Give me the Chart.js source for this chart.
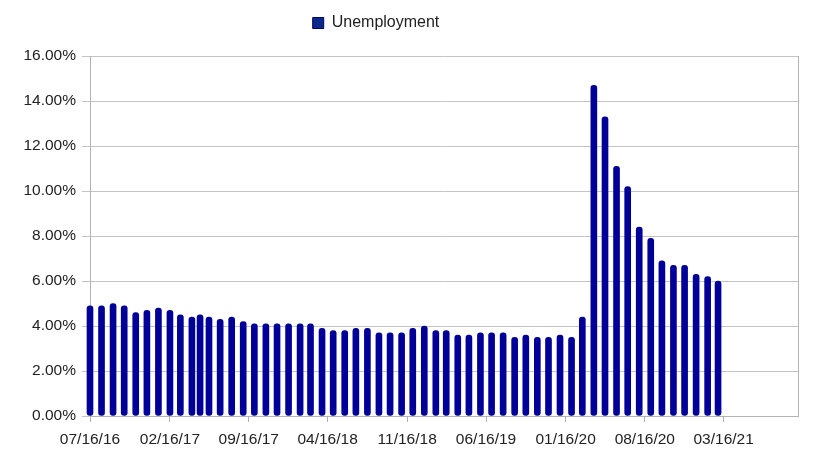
<!DOCTYPE html>
<html><head><meta charset="utf-8">
<script src="https://cdn.jsdelivr.net/npm/chart.js@4.4.1/dist/chart.umd.min.js"></script>
<style>html,body{margin:0;padding:0;background:#fff;} #wrap{width:833px;height:464px;}</style>
</head><body><div id="wrap"><canvas id="c" width="833" height="464"></canvas></div>
<script>
const dates = [
 '07/16/16','08/16/16','09/16/16','10/16/16','11/16/16','12/16/16',
 '01/16/17','02/16/17','03/16/17','04/16/17','05/08/17','06/01/17','07/01/17','08/01/17','09/01/17','10/01/17','11/01/17','12/01/17',
 '01/01/18','02/01/18','03/01/18','04/01/18','05/01/18','06/01/18','07/01/18','08/01/18','09/01/18','10/01/18','11/01/18','12/01/18',
 '01/01/19','02/01/19','03/01/19','04/01/19','05/01/19','06/01/19','07/01/19','08/01/19','09/01/19','10/01/19','11/01/19','12/01/19',
 '01/01/20','02/01/20','03/01/20','04/01/20','05/01/20','06/01/20','07/01/20','08/01/20','09/01/20','10/01/20','11/01/20','12/01/20',
 '01/01/21','02/01/21','03/01/21'
];
const unemployment = [
 4.9,4.9,5.0,4.9,4.6,4.7,
 4.8,4.7,4.5,4.4,4.5,4.4,4.3,4.4,4.2,4.1,4.1,4.1,
 4.1,4.1,4.1,3.9,3.8,3.8,3.9,3.9,3.7,3.7,3.7,3.9,
 4.0,3.8,3.8,3.6,3.6,3.7,3.7,3.7,3.5,3.6,3.5,3.5,
 3.6,3.5,4.4,14.7,13.3,11.1,10.2,8.4,7.9,6.9,6.7,6.7,
 6.3,6.2,6.0
];
const tickLabels = ['07/16/16','02/16/17','09/16/17','04/16/18','11/16/18','06/16/19','01/16/20','08/16/20','03/16/21'];
const axisStart = '07/16/16';
const axisEnd = '10/02/21';
const seriesName = 'Unemployment';

function toDay(s){
  const [m,d,y] = s.split('/').map(Number);
  const [m0,d0,y0] = axisStart.split('/').map(Number);
  return (Date.UTC(2000+y, m-1, d) - Date.UTC(2000+y0, m0-1, d0)) / 86400000;
}

const FONT = "'Liberation Sans', Arial, sans-serif";
Chart.defaults.font.family = FONT;

const legendShift = { id:'legendShift', afterLayout(chart){ const l = chart.legend; if(!l) return; const dx = -23, dy = -15; l.left += dx; l.right += dx; l.top += dy; l.bottom += dy; } };
const frame = { id:'frame', beforeDatasetsDraw(chart){ const {ctx, chartArea:a} = chart; ctx.save(); ctx.strokeStyle='#b3b3b3'; ctx.lineWidth=1; ctx.beginPath(); ctx.moveTo(Math.round(a.right)+0.5, a.top); ctx.lineTo(Math.round(a.right)+0.5, a.bottom); ctx.stroke(); ctx.restore(); } };

new Chart(document.getElementById('c'), {
  type: 'bar',
  data: {
    datasets: [{
      label: seriesName,
      data: dates.map((d,i) => ({x: toDay(d), y: unemployment[i]})),
      backgroundColor: '#000099',
      borderWidth: 0,
      barThickness: 6,
      borderRadius: 3,
      borderSkipped: false,
      clip: false
    }]
  },
  options: {
    responsive: false,
    animation: false,
    layout: { padding: { left: 0, right: 35, top: 20, bottom: 0 } },
    plugins: {
      tooltip: { enabled: false },
      legend: {
        display: true,
        position: 'top',
        labels: {
          boxWidth: 11, boxHeight: 11, padding: 10,
          color: '#222',
          font: { size: 16, family: FONT },
          generateLabels(chart){
            const items = Chart.defaults.plugins.legend.labels.generateLabels(chart);
            items.forEach(it => { it.lineWidth = 1; it.strokeStyle = '#000066'; it.fillStyle = '#0a2a8a'; });
            return items;
          }
        }
      }
    },
    scales: {
      x: {
        type: 'linear',
        min: 0,
        max: toDay(axisEnd),
        offset: false,
        afterFit(s){ s.height = 48; },
        afterBuildTicks(s){ s.ticks = tickLabels.map(t => ({value: toDay(t)})); },
        grid: { display: true, drawOnChartArea: false, drawTicks: true, tickLength: 6, color: '#b3b3b3', offset: false },
        border: { display: true, color: '#b3b3b3' },
        ticks: {
          autoSkip: false, maxRotation: 0, minRotation: 0, padding: 8,
          color: '#222', font: { size: 15.5, family: FONT },
          callback(v, i){ return tickLabels[i]; }
        }
      },
      y: {
        min: 0, max: 16,
        afterFit(s){ s.width = 90; },
        grid: { color: '#c4c4c4', tickLength: 8 },
        border: { display: true, color: '#b3b3b3' },
        ticks: {
          stepSize: 2, padding: 6,
          color: '#222', font: { size: 15.5, family: FONT },
          callback(v){ return v.toFixed(2) + '%'; }
        }
      }
    }
  },
  plugins: [legendShift, frame]
});
</script>
</body></html>
